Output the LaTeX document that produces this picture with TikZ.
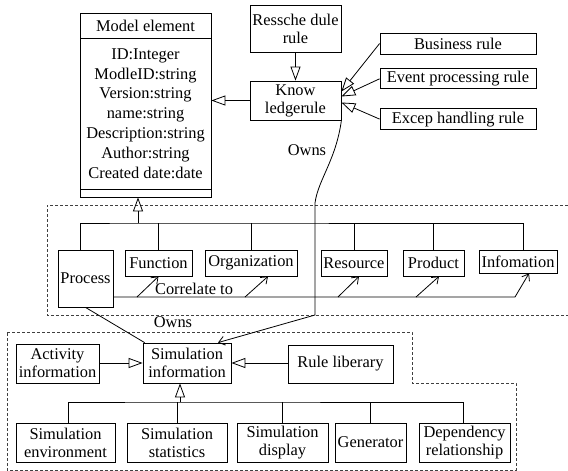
\documentclass[tikz,border=0pt]{standalone}
\usepackage{fontspec}
\setmainfont{Liberation Serif}
\usetikzlibrary{positioning}
\usetikzlibrary {arrows.meta}
\tikzset{umlbox/.style={rectangle,draw=black,fill=white,
inner sep=2pt,align=center}}
\tikzset{rulebox/.style={rectangle,draw=black,fill=white,
inner sep=2pt,minimum height=21pt, minimum width=156pt}}
\tikzset{groupline/.style={draw=black!75,line width=0.7pt,dash pattern=on 3pt off 2pt}}
\tikzset{inherit/.style={line width=0.8pt,-{Triangle[open,length=14pt,width=10pt]}}}
\tikzset{relate/.style={line width=0.8pt,-{Straight Barb[length=6pt,width=9pt]}}}

\begin{document}
\begin{tikzpicture}[x=1pt,y=-1pt,line width=0.8pt,font=\fontsize{16.4}{18}\selectfont]
        \useasboundingbox (0,0) rectangle (568,471);

        % model element
        \node[umlbox,minimum width=131pt,minimum height=25pt] (modelhead) at (145.5,25.5) {Model element};
        \node[umlbox,minimum width=131pt,minimum height=151pt,font=\fontsize{16.4}{19.8}\selectfont] (modelbody) at (145.5,113.5)
            {ID:Integer\\ModleID:string\\Version:string\\name:string\\Description:string\\Author:string\\Created date:date};
        \node[umlbox,minimum width=131pt,minimum height=8pt,inner sep=0pt] (modelfoot) at (145.5,193) {};

        % rules
        \node[umlbox,minimum width=91pt,minimum height=47pt] (ressche) at (295.5,28.5) {Ressche dule\\rule};
        \node[umlbox,minimum width=91pt,minimum height=39pt] (know) at (295.5,100.5) {Know\\ledgerule};
        \node[rulebox] (business) at (458,43.5) {Business rule};
        \node[rulebox,minimum height=20pt] (event) [below=14pt of business] {Event processing rule};
        \node[rulebox] (excep) [below=19pt of event] {Excep handling rule};

        \draw[inherit] (ressche) -- (know);
        \draw[inherit] (know.west) -- (know.west -| modelbody.east);
        \draw[inherit] (business.west) -- ([yshift=9pt]know.east);
        \draw[inherit] (event.west) -- ([yshift=4pt]know.east);
        \draw[inherit] (excep.west) -- ([yshift=-2pt]know.east);

        % model parts
        \draw[groupline] (568,205) -| (47,315) -- (568,315);
        \node[umlbox,minimum width=55pt,minimum height=57pt] (process) at (85.5,278.5) {Process};
        \node[umlbox,minimum width=67pt,minimum height=26pt] (function) at (158.5,263) {Function};
        \node[umlbox,minimum width=92pt,minimum height=26pt] (organization) at (251,263) {Organization};
        \node[umlbox,minimum width=66pt,minimum height=26pt] (resource) at (354,263) {Resource};
        \node[umlbox,minimum width=61pt,minimum height=26pt] (product) at (433.5,263) {Product};
        \node[umlbox,minimum width=78pt,minimum height=23pt] (infomation) at (518,261.5) {Infomation};

        \coordinate (partbus) at (138,223);
        \draw[inherit] (partbus) -- (partbus |- modelfoot.south);
        \draw ([xshift=-5.5pt]process.north) |- (partbus) -| ([xshift=5pt]infomation.north);
        \foreach \part in {function,organization,resource,product}
            \draw (\part.north) -- (\part.north |- partbus);

        % correlate to
        \coordinate (corrEnd) at (515,297);
        \draw[relate] ([yshift=-18.5pt]process.east) -- (corrEnd) -- ([xshift=11pt]infomation.south);
        \coordinate (corrF) at (137,297);
        \coordinate (corrO) at (245,297);
        \coordinate (corrR) at (338,297);
        \coordinate (corrP) at (416,297);
        \draw[relate] (corrF) -- (function.south);
        \draw[relate] (corrO) -- ([xshift=17pt]organization.south);
        \draw[relate] (corrR) -- ([xshift=5pt]resource.south);
        \draw[relate] (corrP) -- ([xshift=5.5pt]product.south);
        \node (corrlabel) at (194,289) {Correlate to};

        % simulation
        \draw[groupline] (7,332) -- (412,332) -- (412,383) -- (516,383) -- (516,470) -- (7,470) -- cycle;
        \node[umlbox,minimum width=83pt,minimum height=39pt] (activity) at (57.5,363.5) {Activity\\information};
        \node[umlbox,minimum width=88pt,minimum height=40pt] (siminfo) at (187,363) {Simulation\\information};
        \node[umlbox,minimum width=105pt,minimum height=38pt] (rulelib) at (340.5,364) {Rule liberary};

        \draw[inherit] (activity.east |- siminfo) -- (siminfo.west);
        \draw[inherit] (rulelib.west |- siminfo) -- (siminfo.east);

        \node[umlbox,minimum width=99pt,minimum height=39pt] (simenv) at (65.5,442.5) {Simulation\\environment};
        \node[umlbox,minimum width=100pt,minimum height=39pt] (simstat) at (177,442.5) {Simulation\\statistics};
        \node[umlbox,minimum width=91pt,minimum height=39pt] (simdisp) at (282.5,442.5) {Simulation\\display};
        \node[umlbox,minimum width=71pt,minimum height=39pt] (generator) at (370.5,442.5) {Generator};
        \node[umlbox,minimum width=91pt,minimum height=39pt] (dependency) at (464.5,442.5) {Dependency\\relationship};

        \coordinate (simbus) at (180,402);
        \draw[inherit] (simbus) -- (simbus |- siminfo.south);
        \draw ([xshift=2.5pt]simenv.north) |- (simbus) -| ([xshift=-1.5pt]dependency.north);
        \foreach \part in {simstat,simdisp,generator}
            \draw (\part.north) -- (\part.north |- simbus);

        % owns
        \coordinate (ownsA) at (315,203);
        \coordinate (ownsB) at (315,315);
        \draw[relate] (know.south east) .. controls (336,160) and (318,180) .. (ownsA) -- (ownsB) -- ([xshift=31pt]siminfo.north);
        \node (ownslabel) at (307,150) {Owns};
        \draw (process.south) -- ([xshift=2pt]siminfo.north west);
        \node (ownslabel2) at (173,322) {Owns};

    \end{tikzpicture}
\end{document}
